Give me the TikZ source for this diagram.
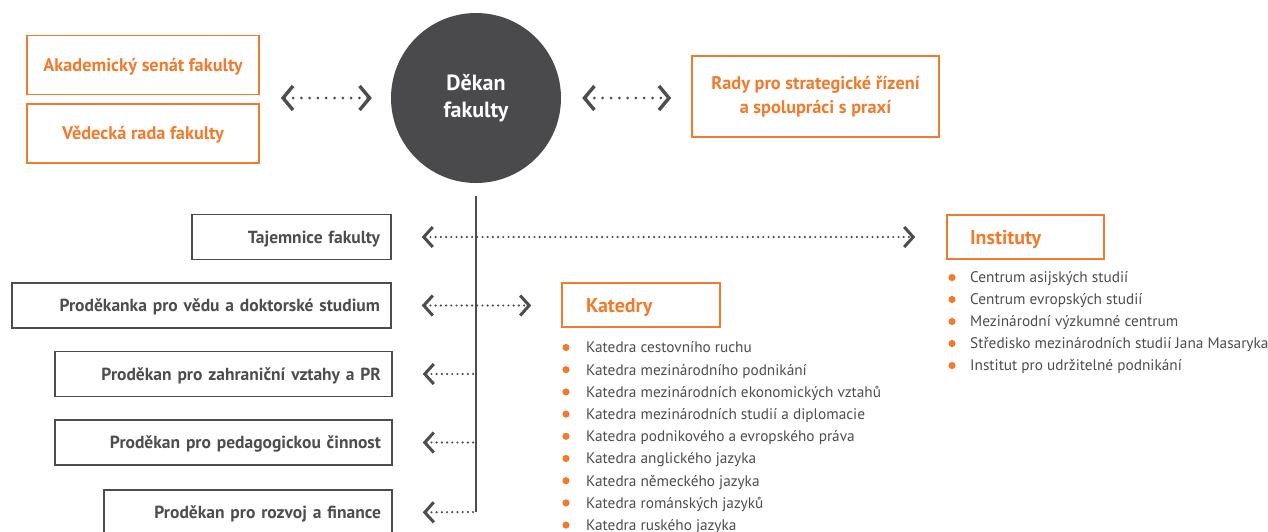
\documentclass[tikz,border=0pt]{standalone}
\usepackage{fontspec}
\setmainfont{PT Sans}
\usepackage{tikz}
\usetikzlibrary{arrows.meta,shapes}
\definecolor{vseorange}{HTML}{F27A2C}
\definecolor{vsegray}{HTML}{4D4D4F}
\definecolor{vsedark}{HTML}{4A4A4C}

\begin{document}
\begin{tikzpicture}[x=1pt,y=-1pt,
        chev/.tip={Straight Barb[length=9pt,width=20pt,line width=3pt]},
        bigchev/.tip={Straight Barb[length=10pt,width=24pt,line width=3.4pt]},
        capcenter/.style={text height=#1,text depth=0pt},
        orbox/.style={rectangle,draw=vseorange,line width=1.6pt,text=vseorange,font=\bfseries\fontsize{18.3}{24}\selectfont,align=center},
        grbox/.style={rectangle,capcenter=12.3pt,draw=vsegray,line width=1.5pt,text=vsegray,font=\bfseries\fontsize{17.5}{20}\selectfont,minimum height=45pt,inner xsep=11pt,align=right},
        headbox/.style={rectangle,capcenter=14pt,draw=vseorange,line width=1.6pt,text=vseorange,font=\bfseries\fontsize{20}{23}\selectfont,minimum height=44pt,align=left},
        item/.style={anchor=west,capcenter=10.7pt,inner sep=0pt,text=vsegray,font=\fontsize{15.3}{18}\selectfont},
        bigdots/.style={draw=vsegray,line width=3pt,line cap=round,dash pattern=on 0pt off 8.3pt,bigchev-bigchev},
        smalldots/.style={draw=vsegray,line width=2.4pt,line cap=round,dash pattern=on 0pt off 5.2pt}]
        \useasboundingbox (0,0) rectangle (1268,531);

        \node[circle,fill=vsedark,minimum size=170pt,text=white,align=center,font=\bfseries\fontsize{22}{27}\selectfont] (dekan) at (476,98) {D\v{e}kan\\fakulty};

        \node[orbox,capcenter=12.8pt,minimum width=232pt,minimum height=59pt] (senat) at (143,65) {Akademický senát fakulty};
        \node[orbox,capcenter=12.8pt,minimum width=232pt,minimum height=59pt] (vedrada) at (143,133.5) {Vědecká rada fakulty};
        \node[orbox,minimum width=247pt,minimum height=81pt] (rady) at (815.5,96.5) {Rady pro strategické řízení\\a spolupráci s praxí};

        \draw[bigdots,shorten <=21pt,shorten >=19pt] (dekan.west -| senat.east) -- (dekan.west);
        \draw[bigdots,shorten <=21pt,shorten >=20pt] (dekan.east) -- (dekan.east -| rady.west);

        \coordinate (trunkend) at (476,512);
        \draw[vsegray,line width=1.6pt,shorten <=13pt] (dekan.south) -- (trunkend);

        \node[grbox,text width=177pt] (tajemnice) at (291.5,237) {Tajemnice fakulty};
        \node[grbox,text width=357pt] (veda) at (201.5,305.5) {Proděkanka pro vědu a doktorské studium};
        \node[grbox,text width=315pt] (zahranici) at (223.5,374) {Proděkan pro zahraniční vztahy a PR};
        \node[grbox,text width=315pt] (pedagog) at (223.5,442.5) {Proděkan pro pedagogickou činnost};
        \node[grbox,text width=266pt] (rozvoj) at (248,512.5) {Proděkan pro rozvoj a finance};

        \node[headbox,minimum width=158pt,text width=110pt,inner xsep=24pt] (katedry) at (641,305) {Katedry};
        \node[headbox,minimum width=157pt,text width=111pt,inner xsep=23pt] (instituty) at (1025.5,237) {Instituty};

        \draw[smalldots,chev-chev,shorten <=30pt,shorten >=31pt] (tajemnice.east) -- (tajemnice.east -| instituty.west);
        \draw[smalldots,chev-chev,shorten <=30pt,shorten >=30pt] (veda.east) -- (veda.east -| katedry.west);
        \draw[smalldots,chev-,shorten <=30pt] (zahranici.east) -- (zahranici.east -| trunkend);
        \draw[smalldots,chev-,shorten <=30pt] (pedagog.east) -- (pedagog.east -| trunkend);
        \draw[smalldots,chev-,shorten <=30pt] (rozvoj.east) -- (trunkend);

        \foreach \name [count=\i from 0] in {Katedra cestovního ruchu,Katedra mezinárodního podnikání,Katedra mezinárodních ekonomických vztahů,Katedra mezinárodních studií a diplomacie,Katedra podnikového a evropského práva,Katedra anglického jazyka,Katedra německého jazyka,Katedra románských jazyků,Katedra ruského jazyka}{
            \fill[vseorange] (566,347.5+22.2*\i) circle (3.6pt);
            \node[item] (kat\i) at (586,347.5+22.2*\i) {\name};
        }
        \foreach \name [count=\i from 0] in {Centrum asijských studií,Centrum evropských studií,Mezinárodní výzkumné centrum,Středisko mezinárodních studií Jana Masaryka,Institut pro udržitelné podnikání}{
            \fill[vseorange] (952,277.5+22*\i) circle (3.6pt);
            \node[item] (inst\i) at (970,277.5+22*\i) {\name};
        }
\end{tikzpicture}
\end{document}
